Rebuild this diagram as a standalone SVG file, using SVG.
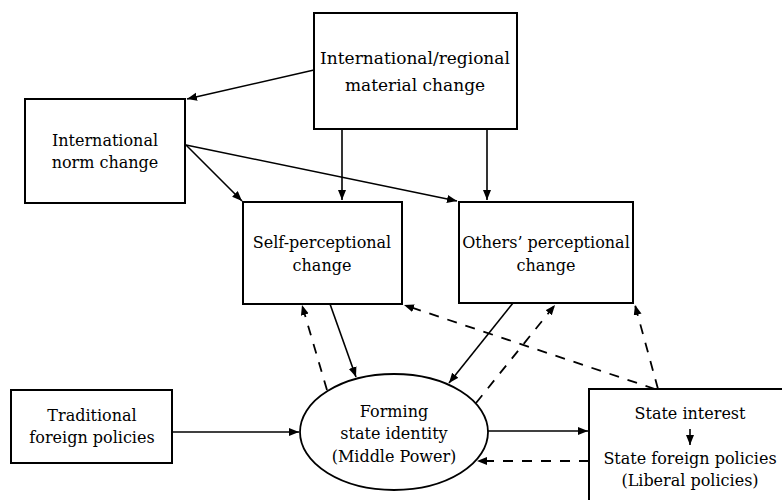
<svg xmlns="http://www.w3.org/2000/svg" width="782" height="500" viewBox="0 0 782 500">
<style>
.box{fill:#fff;stroke:#000;stroke-width:2}
text{font-family:'DejaVu Serif',serif;font-size:16px;fill:#000;text-anchor:middle}
.tb{font-size:17px}
.ln{fill:none;stroke:#000;stroke-width:1.6}
.ds{fill:none;stroke:#000;stroke-width:1.8;stroke-dasharray:10 9}
</style>
<defs>
<marker id="ah" markerUnits="userSpaceOnUse" markerWidth="11" markerHeight="9" refX="10" refY="4" orient="auto">
<path d="M0,0 L10,4 L0,8 z" fill="#000"/>
</marker>
</defs>
<rect width="782" height="500" fill="#fff"/>
<g id="connectors">
<line class="ln" x1="314" y1="70" x2="187" y2="99" marker-end="url(#ah)"/>
<line class="ln" x1="342" y1="129" x2="342" y2="200" marker-end="url(#ah)"/>
<line class="ln" x1="487" y1="129" x2="487" y2="200" marker-end="url(#ah)"/>
<line class="ln" x1="186" y1="145" x2="242" y2="201" marker-end="url(#ah)"/>
<line class="ln" x1="186" y1="145" x2="457" y2="201" marker-end="url(#ah)"/>
<line class="ds" x1="327" y1="390" x2="302" y2="305" marker-end="url(#ah)"/>
<line class="ln" x1="330" y1="304" x2="356" y2="377" marker-end="url(#ah)"/>
<line class="ln" x1="513" y1="303" x2="449" y2="383" marker-end="url(#ah)"/>
<line class="ds" x1="476" y1="403" x2="555" y2="305" marker-end="url(#ah)"/>
<line class="ds" x1="658" y1="389" x2="635" y2="305" marker-end="url(#ah)"/>
<line class="ds" x1="655" y1="389" x2="404" y2="305" marker-end="url(#ah)"/>
<line class="ln" x1="172" y1="432" x2="299" y2="432" marker-end="url(#ah)"/>
<line class="ln" x1="488" y1="431" x2="588" y2="431" marker-end="url(#ah)"/>
<line class="ds" x1="589" y1="461" x2="477" y2="461" marker-end="url(#ah)"/>
</g>
<g id="material">
<rect class="box" x="314" y="13" width="203" height="116"/>
<text class="tb" x="415" y="64">International/regional</text>
<text class="tb" x="415" y="91">material change</text>
</g>
<g id="norm">
<rect class="box" x="25" y="99" width="160" height="104"/>
<text x="105" y="146">International</text>
<text x="105" y="168">norm change</text>
</g>
<g id="self">
<rect class="box" x="243" y="202" width="159" height="102"/>
<text x="322" y="248">Self-perceptional</text>
<text x="322" y="271">change</text>
</g>
<g id="others">
<rect class="box" x="459" y="202" width="174" height="101"/>
<text x="546" y="248">Others’ perceptional</text>
<text x="546" y="271">change</text>
</g>
<g id="traditional">
<rect class="box" x="11" y="390" width="161" height="73"/>
<text x="92" y="421">Traditional</text>
<text x="92" y="443">foreign policies</text>
</g>
<g id="identity">
<ellipse cx="394" cy="432" rx="94" ry="58" fill="#fff" stroke="#000" stroke-width="1.8"/>
<text x="394" y="417">Forming</text>
<text x="394" y="439">state identity</text>
<text x="394" y="462">(Middle Power)</text>
</g>
<g id="state">
<rect class="box" x="589" y="389" width="215" height="125"/>
<text x="690" y="419">State interest</text>
<line class="ln" x1="690" y1="429" x2="690" y2="445" marker-end="url(#ah)"/>
<text x="690" y="464">State foreign policies</text>
<text x="690" y="486">(Liberal policies)</text>
</g>
</svg>
